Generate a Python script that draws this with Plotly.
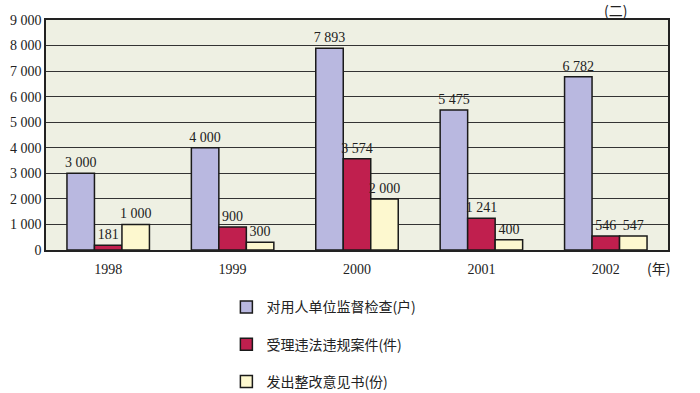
import plotly.graph_objects as go

years = ["1998", "1999", "2000", "2001", "2002"]
inspect_vals = [3000, 4000, 7893, 5475, 6782]
cases_vals = [181, 900, 3574, 1241, 546]
notice_vals = [1000, 300, 2000, 400, 547]
series_names = ["对用人单位监督检查(户)", "受理违法违规案件(件)", "发出整改意见书(份)"]
y_ticks = [0, 1000, 2000, 3000, 4000, 5000, 6000, 7000, 8000, 9000]

def fmt(v):
    return f"{v:,}".replace(",", " ")

colors = ["#b9b8e0", "#c01f4e", "#fdf8cf"]
series = [inspect_vals, cases_vals, notice_vals]
serif = "Liberation Serif, DejaVu Serif, serif"

fig = go.Figure()
for i, (name, vals, c) in enumerate(zip(series_names, series, colors)):
    fig.add_trace(go.Bar(
        x=years, y=vals, name=name, legendgroup=f"g{i}",
        marker=dict(color=c, line=dict(color="#1a1a1a", width=1.5)),
        text=[fmt(v) for v in vals], textposition="outside", cliponaxis=False,
        constraintext="none",
        textfont=dict(family=serif, size=14, color="#222"),
    ))

fig.update_layout(
    width=700, height=393,
    margin=dict(l=46, r=32, t=20, b=143, autoexpand=False),
    barmode="group", bargap=0.337, bargroupgap=0,
    plot_bgcolor="#eef0e3", paper_bgcolor="#ffffff",
    showlegend=True,
    legend=dict(x=0.29, y=-0.18, xanchor="left", yanchor="top",
                font=dict(family="Noto Sans CJK SC", size=14, color="#222"),
                tracegroupgap=16, bgcolor="rgba(0,0,0,0)"),
    font=dict(family=serif, size=14, color="#222"),
)
fig.update_xaxes(showline=True, linecolor="#222", linewidth=1.5, mirror=True,
                 ticks="outside", ticklen=5, tickcolor="rgba(0,0,0,0)",
                 tickfont=dict(size=14))
fig.update_yaxes(range=[0, 9000], tickvals=y_ticks, ticktext=[fmt(v) for v in y_ticks],
                 showgrid=True, gridcolor="#333", gridwidth=1,
                 showline=True, linecolor="#222", linewidth=1.5, mirror=True,
                 zeroline=False, ticks="", tickfont=dict(size=14))
fig.add_annotation(text="(年)", x=1.0, y=0, xref="paper", yref="paper",
                   xanchor="right", yanchor="top", yshift=-6, xshift=4, showarrow=False,
                   font=dict(family="Noto Sans CJK SC", size=14, color="#222"))
fig.add_annotation(text="(二)", x=0.915, y=1.0, xref="paper", yref="paper",
                   xanchor="center", yanchor="bottom", yshift=-2, showarrow=False,
                   font=dict(family="Noto Sans CJK SC", size=14, color="#222"))
fig.write_html("out.html")
